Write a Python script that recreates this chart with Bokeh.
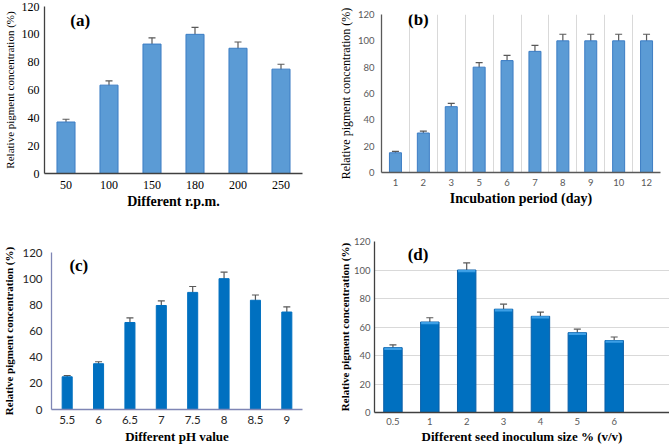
from bokeh.plotting import figure
from bokeh.layouts import column, row
from bokeh.models import ColumnDataSource, Range1d, FixedTicker, Whisker, TeeHead, Label
from bokeh.embed import file_html
from bokeh.resources import INLINE

# ---- data ----
rpm_cats = ["50", "100", "150", "180", "200", "250"]
rpm_vals = [37, 63.5, 93, 100, 90, 75]
rpm_err = [2, 3, 4.5, 5, 4.5, 3.5]

day_cats = ["1", "2", "3", "5", "6", "7", "8", "9", "10", "12"]
day_vals = [15, 30, 50, 80, 85, 92, 100, 100, 100, 100]
day_err = [1, 1.5, 2.5, 3.5, 4, 4.5, 5, 5, 5, 5]

ph_cats = ["5.5", "6", "6.5", "7", "7.5", "8", "8.5", "9"]
ph_vals = [25, 35, 66.5, 79.5, 89.5, 100, 83.5, 74.5]
ph_err = [1, 1.5, 3.5, 3.5, 4.5, 5, 4, 4]

seed_cats = ["0.5", "1", "2", "3", "4", "5", "6"]
seed_vals = [45.5, 63.5, 100, 72.5, 67.5, 56, 50.5]
seed_err = [2, 3, 5, 3.5, 3, 2.5, 2.5]

y_ticks = [0, 20, 40, 60, 80, 100, 120]
YTITLE = "Relative pigment concentration (%)"
SERIF = "Liberation Serif"
SANS = "Lato"


def panel(cats, vals, errs, n_slots, w, h, borders, xtitle, letter, letter_pos,
          fill, edge, bar_w, tick_font, tick_size, tick_color, ytitle_bold, ytitle_size,
          xtitle_size, axis_color, ygrid=False, xgrid=False, label_standoffs=(5, 6),
          title_standoffs=(8, 6), highlight=None):
    left, right, top, bottom = borders
    p = figure(width=w, height=h, output_backend="svg", toolbar_location=None,
               x_range=Range1d(-0.5, n_slots - 0.5), y_range=Range1d(0, 120),
               min_border_left=left, min_border_right=right,
               min_border_top=top, min_border_bottom=bottom)
    p.title = None
    p.outline_line_color = None
    x = list(range(len(cats)))
    lo = [v - e for v, e in zip(vals, errs)]
    hi = [v + e for v, e in zip(vals, errs)]
    src = ColumnDataSource(dict(x=x, top=vals, lo=lo, hi=hi,
                                hl=[v - 1.6 for v in vals]))
    p.vbar(x="x", top="top", bottom=0, width=bar_w, source=src,
           fill_color=fill, line_color=edge, line_width=1)
    if highlight:
        p.vbar(x="x", top="top", bottom="hl", width=bar_w * 0.94, source=src,
               fill_color=highlight, line_color=None)
    wk = Whisker(base="x", lower="lo", upper="hi", source=src, line_color="#595959",
                 line_width=1.2,
                 upper_head=TeeHead(size=7, line_color="#595959", line_width=1.2),
                 lower_head=TeeHead(size=7, line_color="#595959", line_width=1.2))
    p.add_layout(wk)

    # axes
    p.xaxis.ticker = FixedTicker(ticks=x)
    p.xaxis.major_label_overrides = {i: c for i, c in enumerate(cats)}
    p.yaxis.ticker = FixedTicker(ticks=y_ticks)
    for ax in (p.xaxis[0], p.yaxis[0]):
        ax.major_tick_line_color = None
        ax.minor_tick_line_color = None
        ax.major_tick_out = 0
        ax.major_tick_in = 0
        ax.minor_tick_out = 0
        ax.minor_tick_in = 0
        ax.axis_line_color = axis_color
        ax.axis_line_width = 1.3
        ax.major_label_text_font = tick_font
        ax.major_label_text_font_size = tick_size
        ax.major_label_text_color = tick_color
    p.yaxis.major_label_standoff = label_standoffs[0]
    p.xaxis.major_label_standoff = label_standoffs[1]
    p.yaxis.axis_label = YTITLE
    p.yaxis.axis_label_text_font = SERIF
    p.yaxis.axis_label_text_font_style = "bold" if ytitle_bold else "normal"
    p.yaxis.axis_label_text_font_size = ytitle_size
    p.yaxis.axis_label_text_color = "#000000"
    p.yaxis.axis_label_standoff = title_standoffs[0]
    p.xaxis.axis_label = xtitle
    p.xaxis.axis_label_text_font = SERIF
    p.xaxis.axis_label_text_font_style = "bold"
    p.xaxis.axis_label_text_font_size = xtitle_size
    p.xaxis.axis_label_text_color = "#000000"
    p.xaxis.axis_label_standoff = title_standoffs[1]

    # grids
    p.ygrid.grid_line_color = "#d9d9d9" if ygrid else None
    if xgrid:
        p.xgrid.ticker = FixedTicker(ticks=[i + 0.5 for i in range(n_slots - 1)])
        p.xgrid.grid_line_color = "#d9d9d9"
    else:
        p.xgrid.grid_line_color = None

    lab = Label(x=letter_pos[0], y=letter_pos[1], text=letter, text_font=SERIF,
                text_font_style="bold", text_font_size="17px", text_baseline="middle",
                text_color="#000000")
    p.add_layout(lab)
    return p


pa = panel(rpm_cats, rpm_vals, rpm_err, len(rpm_cats), 335, 220, (42, 33, 6, 47),
           "Different r.p.m.", "(a)", (0.1, 110), "#5B9BD5", "#3C7DC4", 0.42,
           SERIF, "12px", "#000000", False, "11px", "14px", "#404040",
           label_standoffs=(5, 7), title_standoffs=(3, 2))

pb = panel(day_cats, day_vals, day_err, len(day_cats), 334, 220, (46, 9, 14, 48),
           "Incubation period (day)", "(b)", (0.45, 116), "#5B9BD5", "#3C7DC4", 0.43,
           SANS, "9.5px", "#595959", False, "12px", "14px", "#595959", xgrid=True,
           label_standoffs=(7, 6), title_standoffs=(2, 2))

pc = panel(ph_cats, ph_vals, ph_err, len(ph_cats), 335, 226, (51, 33, 32, 35),
           "Different pH value", "(c)", (0.07, 110), "#0070C0", "#0070C0", 0.32,
           SANS, "11.5px", "#262626", True, "11px", "13px", "#7F86B5",
           label_standoffs=(9, 6), title_standoffs=(4, 2))

pd_ = panel(seed_cats, seed_vals, seed_err, 8, 334, 226, (39, 0, 21, 33),
            "Different seed inoculum size % (v/v)", "(d)", (0.4, 111), "#0070C0", "#0A5FA8", 0.5,
            SANS, "9.5px", "#595959", True, "11px", "13px", "#404040", ygrid=True,
            label_standoffs=(4, 5), title_standoffs=(0, 1), highlight="#3C9FE6")

layout = column(row(column(pa), column(pb)), row(column(pc), column(pd_)))
open("out.html", "w").write(file_html(layout, INLINE))
